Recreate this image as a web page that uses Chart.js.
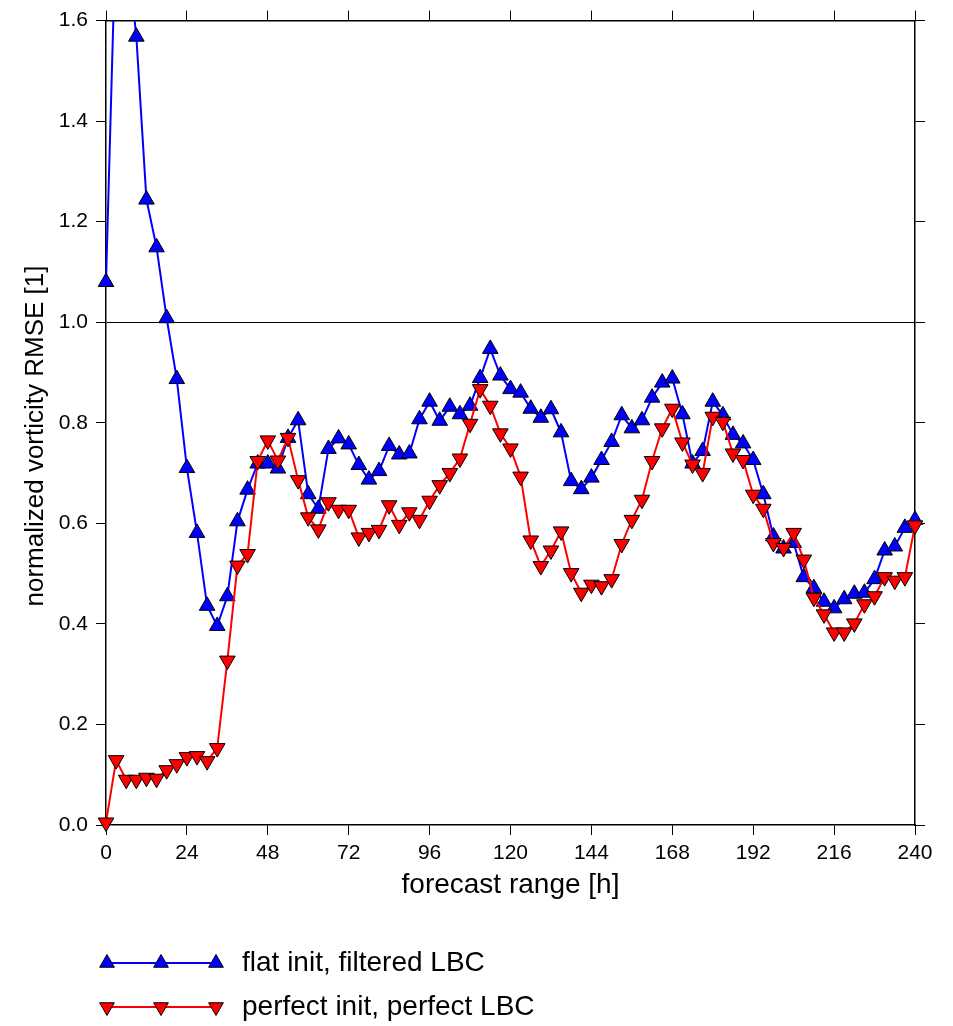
<!DOCTYPE html>
<html>
<head>
<meta charset="utf-8">
<script src="https://cdn.jsdelivr.net/npm/chart.js@4"></script>
<style>
  body { margin: 0; background: #fff; }
  canvas { display: block; }
</style>
</head>
<body>
<canvas id="myChart" width="953" height="1026"></canvas>
<script>
// forecast hours (every 3h)
const hours = [0, 3, 6, 9, 12, 15, 18, 21, 24, 27, 30, 33, 36, 39, 42, 45, 48, 51, 54, 57,
  60, 63, 66, 69, 72, 75, 78, 81, 84, 87, 90, 93, 96, 99, 102, 105, 108, 111, 114, 117,
  120, 123, 126, 129, 132, 135, 138, 141, 144, 147, 150, 153, 156, 159, 162, 165, 168, 171, 174, 177,
  180, 183, 186, 189, 192, 195, 198, 201, 204, 207, 210, 213, 216, 219, 222, 225, 228, 231, 234, 237, 240];

// flat init, filtered LBC
const flatInit = [1.08, 1.80, 1.76, 1.568, 1.244, 1.149, 1.008, 0.887, 0.710, 0.581,
  0.436, 0.396, 0.455, 0.604, 0.667, 0.719, 0.719, 0.709, 0.770, 0.805,
  0.658, 0.629, 0.748, 0.769, 0.757, 0.716, 0.687, 0.704, 0.754, 0.737,
  0.739, 0.807, 0.842, 0.804, 0.832, 0.817, 0.834, 0.889, 0.947, 0.894,
  0.867, 0.860, 0.828, 0.810, 0.827, 0.781, 0.684, 0.668, 0.691, 0.726,
  0.762, 0.815, 0.789, 0.805, 0.850, 0.880, 0.888, 0.817, 0.719, 0.744,
  0.842, 0.815, 0.776, 0.759, 0.726, 0.658, 0.574, 0.550, 0.561, 0.493,
  0.471, 0.444, 0.431, 0.449, 0.460, 0.462, 0.489, 0.546, 0.554, 0.591, 0.607];

// perfect init, perfect LBC
const perfectInit = [0.005, 0.129, 0.090, 0.090, 0.094, 0.092, 0.109, 0.121, 0.135, 0.137,
  0.127, 0.153, 0.327, 0.516, 0.539, 0.724, 0.765, 0.725, 0.770, 0.686,
  0.612, 0.588, 0.642, 0.627, 0.627, 0.572, 0.581, 0.587, 0.636, 0.597,
  0.622, 0.607, 0.645, 0.676, 0.700, 0.729, 0.798, 0.867, 0.834, 0.779,
  0.749, 0.693, 0.566, 0.515, 0.546, 0.584, 0.501, 0.462, 0.478, 0.475,
  0.489, 0.559, 0.607, 0.647, 0.724, 0.789, 0.828, 0.761, 0.717, 0.700,
  0.812, 0.802, 0.739, 0.726, 0.657, 0.629, 0.561, 0.551, 0.581, 0.528,
  0.452, 0.419, 0.383, 0.383, 0.401, 0.439, 0.455, 0.493, 0.486, 0.493, 0.596];

const seriesNames = ['flat init, filtered LBC', 'perfect init, perfect LBC'];
const xTitle = 'forecast range [h]';
const yTitle = 'normalized vorticity RMSE [1]';

const FONT = "'Liberation Sans', Arial, Helvetica, sans-serif";
const BLUE = '#0000ff';
const RED = '#ff0000';

function toPoints(vals) {
  return vals.map((v, i) => ({x: hours[i], y: v}));
}

// triangle for the legend (same shape as chart.js 'triangle')
function triangle(ctx, x, y, r, down, fill) {
  let a = down ? Math.PI : 0;
  ctx.beginPath();
  for (let k = 0; k < 3; k++) {
    let px = x + Math.sin(a) * r;
    let py = y - Math.cos(a) * r;
    if (k == 0) ctx.moveTo(px, py); else ctx.lineTo(px, py);
    a += Math.PI * 2 / 3;
  }
  ctx.closePath();
  ctx.fillStyle = fill;
  ctx.fill();
  ctx.strokeStyle = '#000';
  ctx.lineWidth = 1;
  ctx.stroke();
}

const extras = {
  id: 'extras',
  afterDraw(chart) {
    const ctx = chart.ctx;
    ctx.save();
    // y axis title
    ctx.translate(36, 436);
    ctx.rotate(-Math.PI / 2);
    ctx.fillStyle = '#000';
    ctx.font = '26px ' + FONT;
    ctx.textAlign = 'center';
    ctx.textBaseline = 'middle';
    ctx.fillText(yTitle, 0, 0);
    ctx.restore();

    // legend
    const rows = [
      {name: seriesNames[0], color: BLUE, y: 963, down: false},
      {name: seriesNames[1], color: RED, y: 1007, down: true}
    ];
    rows.forEach(row => {
      ctx.save();
      ctx.strokeStyle = row.color;
      ctx.lineWidth = 2;
      ctx.beginPath();
      ctx.moveTo(107, row.y);
      ctx.lineTo(216, row.y);
      ctx.stroke();
      [107, 161, 216].forEach(px => triangle(ctx, px, row.y, 8.5, row.down, row.color));
      ctx.fillStyle = '#000';
      ctx.font = '28px ' + FONT;
      ctx.textAlign = 'left';
      ctx.textBaseline = 'middle';
      ctx.fillText(row.name, 242, row.y);
      ctx.restore();
    });
  }
};

const tickFont = {family: FONT, size: 21};

var ctx = document.getElementById('myChart').getContext('2d');
var chart = new Chart(ctx, {
  type: 'line',
  data: {
    datasets: [{
      label: seriesNames[1],
      data: toPoints(perfectInit),
      borderColor: RED,
      borderWidth: 2,
      backgroundColor: RED,
      pointStyle: 'triangle',
      pointRotation: 180,
      pointRadius: 9,
      pointBorderColor: '#000',
      pointBorderWidth: 1,
      order: 0,
      clip: {left: 12, right: 12, top: 0, bottom: 12}
    }, {
      label: seriesNames[0],
      data: toPoints(flatInit),
      borderColor: BLUE,
      borderWidth: 2,
      backgroundColor: BLUE,
      pointStyle: 'triangle',
      pointRadius: 9,
      pointBorderColor: '#000',
      pointBorderWidth: 1,
      order: 1,
      clip: {left: 12, right: 12, top: 0, bottom: 12}
    }]
  },
  options: {
    responsive: false,
    animation: false,
    layout: {padding: {left: 0, right: 0, top: 0, bottom: 121}},
    plugins: {
      legend: {display: false},
      tooltip: {enabled: false}
    },
    elements: {line: {tension: 0}},
    scales: {
      x: {
        type: 'linear',
        position: 'bottom',
        min: 0, max: 240,
        afterFit: s => { s.height = 80; },
        ticks: {stepSize: 24, font: tickFont, color: '#000', padding: 6, maxRotation: 0},
        grid: {drawOnChartArea: false, tickLength: 10, tickColor: '#000', tickWidth: 1},
        border: {color: '#000', width: 1.5},
        title: {display: true, text: xTitle, color: '#000', font: {family: FONT, size: 28}, padding: {top: 0, bottom: 3}}
      },
      x2: {
        type: 'linear',
        position: 'top',
        min: 0, max: 240,
        afterFit: s => { s.height = 17; },
        ticks: {stepSize: 24, display: false},
        grid: {drawOnChartArea: false, tickLength: 10, tickColor: '#000', tickWidth: 1},
        border: {color: '#000', width: 1.5}
      },
      y: {
        position: 'left',
        min: 0, max: 1.6,
        afterFit: s => { s.width = 106; },
        ticks: {stepSize: 0.2, font: tickFont, color: '#000', padding: 8,
          callback: v => v.toFixed(1)},
        grid: {
          tickLength: 10, tickColor: '#000', tickWidth: 1, lineWidth: 1,
          color: c => (c.tick && Math.abs(c.tick.value - 1) < 1e-6) ? '#000' : 'rgba(0,0,0,0)'
        },
        border: {color: '#000', width: 1.5}
      },
      y2: {
        position: 'right',
        min: 0, max: 1.6,
        afterFit: s => { s.width = 38; },
        ticks: {stepSize: 0.2, display: false},
        grid: {drawOnChartArea: false, tickLength: 10, tickColor: '#000', tickWidth: 1},
        border: {color: '#000', width: 1.5}
      }
    }
  },
  plugins: [extras]
});
</script>
</body>
</html>
